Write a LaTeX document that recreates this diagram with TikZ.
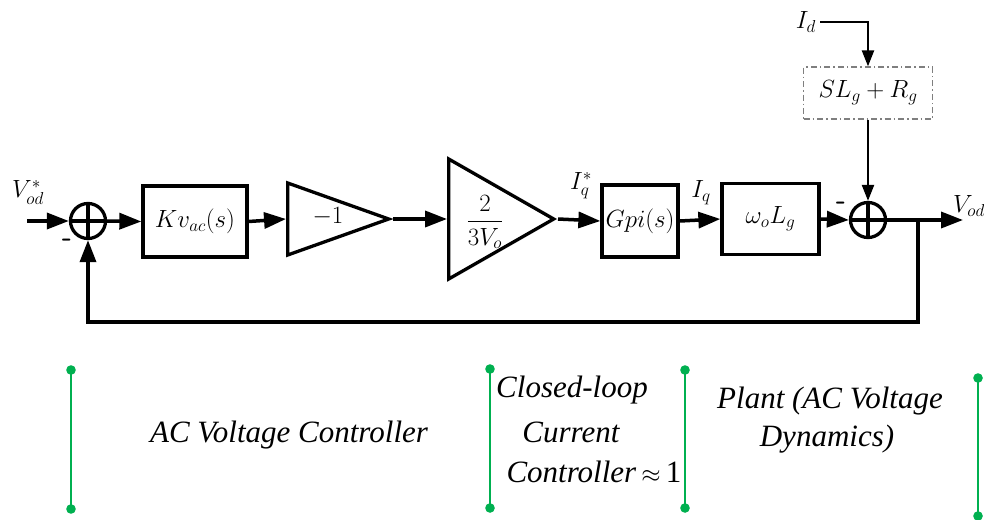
\documentclass[tikz,border=0pt]{standalone}
\usepackage{amsmath}
\usepackage{fontspec}
\setmainfont{Liberation Serif}
\usetikzlibrary{arrows.meta,shapes.geometric}
\definecolor{zonegreen}{HTML}{00B050}
\definecolor{distgray}{HTML}{7F7F7F}
\begin{document}
\begin{tikzpicture}[x=1pt,y=-1pt,
  every node/.style={inner sep=0pt},
  mathlbl/.style={font=\fontsize{25}{29}\selectfont},
  blk/.style={draw, line width=3.3pt, minimum width=#1, mathlbl},
  sig/.style={line width=3.5pt, -{Triangle[length=22pt,width=16pt]}},
  thinsig/.style={line width=2.3pt, -{Triangle[length=16pt,width=12pt]}},
  sumnode/.style={draw, circle, line width=3.3pt, minimum size=35pt},
  gain/.style={draw, isosceles triangle, isosceles triangle stretches, line width=3.3pt, anchor=apex},
  minus/.style={font=\fontsize{28}{30}\selectfont\sffamily\bfseries},
  zone/.style={draw=zonegreen, line width=2.8pt},
  zonedot/.style={fill=zonegreen},
  zonetxt/.style={font=\fontsize{31}{36}\selectfont\itshape, align=center}
]
\useasboundingbox (0,0) rectangle (984,519);

% forward path
\coordinate (in) at (27,221);
\node[mathlbl] (vref) at (28,192) {$V^*_{od}$};
\node[sumnode] (s1) at (88,221) {};
\draw[line width=3.3pt] (s1.north) -- (s1.south) (s1.west) -- (s1.east);
\node[minus] (m1) at (67,243) {-};

\node[blk=104pt, minimum height=71pt] (kv) at (195,221.5) {$Kv_{ac}(s)$};
\node[gain, minimum height=101pt, minimum width=72pt] (g1) at (393,219) {};
\node[mathlbl] (g1t) at (328,217) {$-1$};
\node[gain, minimum height=105pt, minimum width=120pt] (g2) at (558,219) {};
\node[mathlbl] (g2t) at (485,222) {$\dfrac{2}{3V_o}$};
\node[mathlbl] (iqref) at (581,186) {$I^*_q$};
\node[blk=76pt, minimum height=72pt] (gpi) at (640,221) {$Gpi(s)$};
\node[mathlbl] (iq) at (701,193) {$I_q$};
\node[blk=97pt, minimum height=71pt] (wl) at (770.5,219) {$\omega_o L_g$};
\node[minus] (m2) at (841,206) {-};
\node[sumnode] (s2) at (868,220) {};
\draw[line width=3.3pt] (s2.north) -- (s2.south) (s2.west) -- (s2.east);

% disturbance path
\node[mathlbl] (id) at (806,22) {$I_d$};
\node[draw=distgray, line width=1.3pt, dash pattern=on 6pt off 3pt on 1.5pt off 3pt,
      minimum width=129pt, minimum height=52pt, mathlbl] (zg) at (868,93) {$SL_g + R_g$};

% output
\coordinate (out) at (963,220);
\coordinate (br) at (918,220);
\node[mathlbl, anchor=west] (vout) at (953,206) {$V_{od}$};

\draw[sig] (in) -- (s1.west);
\draw[sig] (s1.east) -- (kv.west);
\draw[sig] (kv.east) -- (g1.west);
\draw[sig] (g1.east) -- (g2.west);
\draw[sig] (g2.east) -- (gpi.west);
\draw[sig] (gpi.east) -- (wl.west);
\draw[sig] (wl.east) -- (s2.west);
\draw[thinsig] ([xshift=4pt]id.east) -| (zg.north);
\draw[thinsig] (zg.south) -- (s2.north);
\draw[sig] (s2.east) -- (out);
\draw[sig] (br) -- ++(0,102) -| (s1.south);

% section markers
\foreach \n/\x/\ya/\yb in {z1/71/370/509, z2/490/369/508, z3/685/370/508, z4/978/378/516}{
  \draw[zone] (\x,\ya) -- (\x,\yb);
  \fill[zonedot] (\x,\ya) circle (4.8pt) (\x,\yb) circle (4.8pt);
}
\node[zonetxt] (t1) at (289,435) {AC Voltage Controller};
\node[zonetxt] (t2a) at (572,390) {Closed-loop};
\node[zonetxt] (t2b) at (571,432) {Current};
\node[zonetxt] (t2c) at (594,472) {Controller\,$\approx$\,{\upshape 1}};
\node[zonetxt] (t3a) at (830,401) {Plant (AC Voltage};
\node[zonetxt] (t3b) at (827,439) {Dynamics)};
\end{tikzpicture}
\end{document}
